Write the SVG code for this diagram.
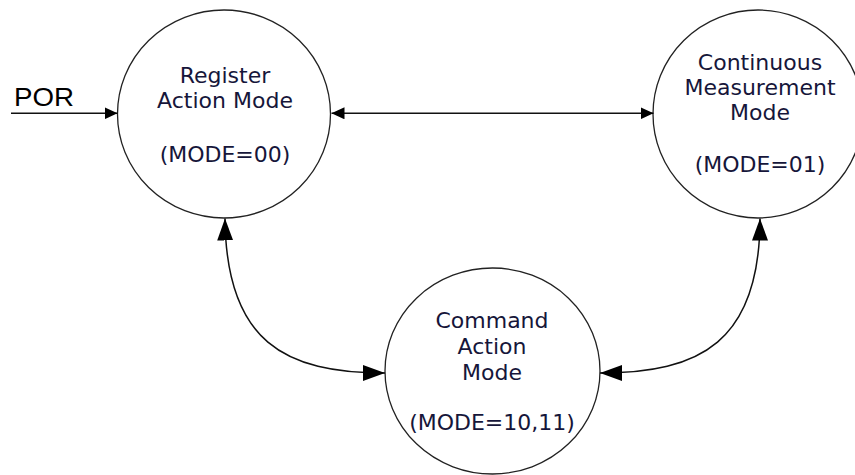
<svg xmlns="http://www.w3.org/2000/svg" width="855" height="475" viewBox="0 0 855 475">
<style>
.node{fill:#fff;stroke:#222;stroke-width:1.3}
.lbl{font-family:"DejaVu Sans",Verdana,sans-serif;font-size:22px;fill:#16163a;text-anchor:middle}
.edge{fill:none;stroke:#111;stroke-width:1.5}
</style>
<defs>
<marker id="sm" viewBox="0 0 13 12" refX="13" refY="6" markerWidth="13" markerHeight="12" markerUnits="userSpaceOnUse" orient="auto-start-reverse"><path d="M0,0L13,6L0,12Z" fill="#000"/></marker>
<marker id="lg" viewBox="0 0 22 16" refX="22" refY="8" markerWidth="22" markerHeight="16" markerUnits="userSpaceOnUse" orient="auto-start-reverse"><path d="M0,0L22,8L0,16Z" fill="#000"/></marker>
</defs>
<rect width="855" height="475" fill="#fff"/>
<g id="register">
<ellipse class="node" cx="224" cy="114" rx="106.5" ry="104"/>
<text class="lbl" x="225" y="83">Register</text>
<text class="lbl" x="225" y="108">Action Mode</text>
<text class="lbl" x="225" y="162">(MODE=00)</text>
</g>
<g id="continuous">
<ellipse class="node" cx="758" cy="114" rx="105" ry="104"/>
<text class="lbl" x="760" y="70">Continuous</text>
<text class="lbl" x="760" y="95">Measurement</text>
<text class="lbl" x="760" y="120">Mode</text>
<text class="lbl" x="760" y="172">(MODE=01)</text>
</g>
<g id="command">
<ellipse class="node" cx="492.5" cy="371" rx="107.5" ry="103"/>
<text class="lbl" x="492" y="328">Command</text>
<text class="lbl" x="492" y="354">Action</text>
<text class="lbl" x="492" y="380">Mode</text>
<text class="lbl" x="492" y="430">(MODE=10,11)</text>
</g>
<g id="por">
<text x="14" y="106" textLength="60" lengthAdjust="spacingAndGlyphs" style="font-family:'Liberation Sans',Arial,sans-serif;font-size:25px;fill:#000">POR</text>
</g>
<g id="connectors">
<path class="edge" d="M11,113.3H117.5" marker-end="url(#sm)"/>
<path class="edge" d="M331.5,113.3H653.5" marker-start="url(#sm)" marker-end="url(#sm)"/>
<path class="edge" d="M225,218.5C226,342 285,373 385,373" marker-start="url(#lg)" marker-end="url(#lg)"/>
<path class="edge" d="M760,218.5C760,342 700,373 600,373" marker-start="url(#lg)" marker-end="url(#lg)"/>
</g>
</svg>
